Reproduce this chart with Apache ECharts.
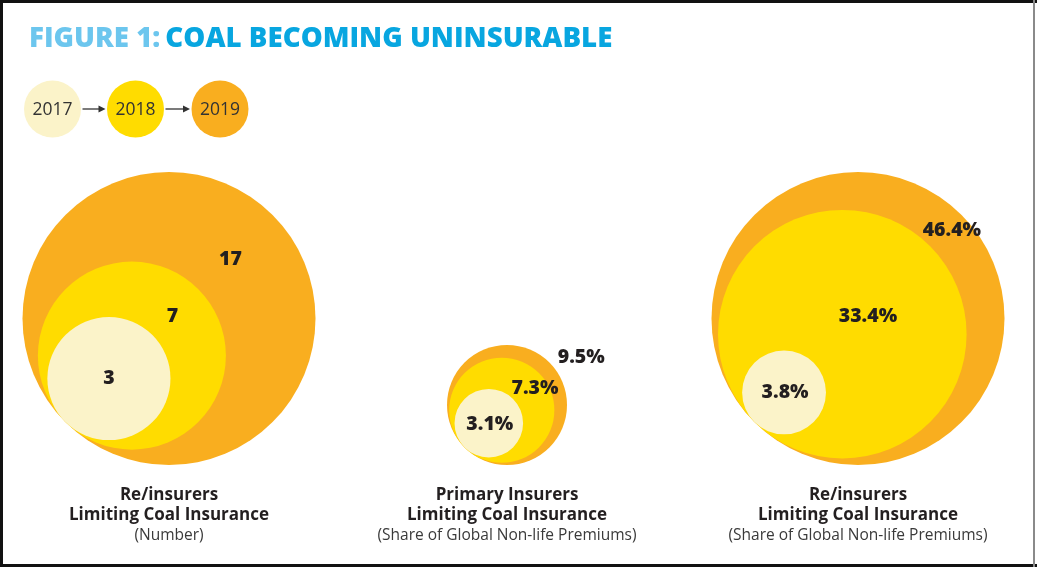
<!DOCTYPE html>
<html><head><meta charset="utf-8">
<script src="https://cdn.jsdelivr.net/npm/echarts@6/dist/echarts.min.js"></script>
<style>html,body{margin:0;padding:0;background:#fff}#c{width:1037px;height:567px}</style>
</head><body><div id="c"></div>
<script>
// ---- data ----
const years = ['2017', '2018', '2019'];
const reinsurersNumber = [3, 7, 17];
const primaryInsurersShare = [3.1, 7.3, 9.5];
const reinsurersShare = [3.8, 33.4, 46.4];
const panelLine1 = ['Re/insurers', 'Primary Insurers', 'Re/insurers'];
const panelLine2 = ['Limiting Coal Insurance', 'Limiting Coal Insurance', 'Limiting Coal Insurance'];
const panelUnits = ['(Number)', '(Share of Global Non-life Premiums)', '(Share of Global Non-life Premiums)'];
const valueSuffix = ['', '%', '%'];
const valueDecimals = [0, 1, 1];
const titleLead = 'FIGURE 1:';
const titleMain = 'COAL BECOMING UNINSURABLE';

// ---- layout / style ----
const FONT = '"Open Sans", "Noto Sans", sans-serif';
const yearColors = ['#FBF3C9', '#FFDC00', '#F9AE1F'];
const panelValues = [reinsurersNumber, primaryInsurersShare, reinsurersShare];
const panels = [
  { cx: 169, R: 146.5, nudges: [[0, 0], [-3, 4], [-5, 7]] },
  { cx: 507, R: 60, nudges: [[1, 1], [9, 2], [37, -10]] },
  { cx: 858, R: 146.5, nudges: [[1, 0], [-4, 12], [6, 0]] }
];
const baseY = 465;
const D = Math.SQRT1_2;

function makeRender(pi) {
  const values = panelValues[pi];
  const s = Math.sqrt(Math.max.apply(null, values));
  const T = [-s * D, s - s * D]; // common tangent point (bottom-left)
  return function (params, api) {
    const v = api.value(0);
    const idx = api.value(1);
    const r = Math.sqrt(v);
    const rIn = idx > 0 ? Math.sqrt(values[idx - 1]) : 0;
    const c = api.coord([T[0] + r * D, T[1] + r * D]);
    const rp = api.size([r, 0])[0];
    const lp = api.coord([T[0] + (r + rIn) * D, T[1] + (r + rIn) * D]);
    const nd = panels[pi].nudges[idx];
    return {
      type: 'group',
      children: [
        { type: 'circle', shape: { cx: c[0], cy: c[1], r: rp }, style: { fill: yearColors[idx] }, z2: 0 },
        {
          type: 'text', x: lp[0] + nd[0], y: lp[1] + nd[1], z2: 10,
          style: {
            text: v.toFixed(valueDecimals[pi]) + valueSuffix[pi],
            font: '800 19.5px ' + FONT, fill: '#231F20', align: 'center', verticalAlign: 'middle'
          }
        }
      ]
    };
  };
}

const grids = [], xAxes = [], yAxes = [], series = [];
panels.forEach((p, i) => {
  const s = Math.sqrt(Math.max.apply(null, panelValues[i]));
  grids.push({ left: p.cx - p.R, top: baseY - 2 * p.R, width: 2 * p.R, height: 2 * p.R, containLabel: false });
  xAxes.push({ gridIndex: i, type: 'value', min: -s, max: s, show: false });
  yAxes.push({ gridIndex: i, type: 'value', min: 0, max: 2 * s, show: false });
  series.push({
    type: 'custom', xAxisIndex: i, yAxisIndex: i, clip: false, silent: true,
    renderItem: makeRender(i),
    encode: { x: 0, y: 1 },
    data: panelValues[i].map((v, k) => [v, k]).reverse()
  });
});

const graphics = [];
// frame
graphics.push({ type: 'rect', shape: { x: 0, y: 0, width: 1037, height: 3 }, style: { fill: '#111' } });
graphics.push({ type: 'rect', shape: { x: 0, y: 0, width: 3, height: 567 }, style: { fill: '#111' } });
graphics.push({ type: 'rect', shape: { x: 0, y: 564, width: 1037, height: 3 }, style: { fill: '#111' } });
graphics.push({ type: 'rect', shape: { x: 1033, y: 0, width: 2, height: 567 }, style: { fill: '#8a8a8a' } });
// legend
const legX = [52.5, 135.5, 220], legY = 109;
years.forEach((y, i) => {
  graphics.push({ type: 'circle', shape: { cx: legX[i], cy: legY, r: 28.5 }, style: { fill: yearColors[i] } });
  graphics.push({ type: 'text', x: legX[i], y: legY + 1, style: { text: y, font: '17.5px ' + FONT, fill: '#333', align: 'center', verticalAlign: 'middle' } });
  if (i < years.length - 1) {
    const x0 = legX[i] + 30, x1 = legX[i + 1] - 30;
    graphics.push({ type: 'line', shape: { x1: x0, y1: legY, x2: x1 - 5, y2: legY }, style: { stroke: '#333', lineWidth: 1.3 } });
    graphics.push({ type: 'polygon', shape: { points: [[x1, legY], [x1 - 7, legY - 3.5], [x1 - 7, legY + 3.5]] }, style: { fill: '#333' } });
  }
});
// panel captions
panels.forEach((p, i) => {
  graphics.push({ type: 'text', x: p.cx, y: 495, style: { text: panelLine1[i], font: 'bold 17px ' + FONT, fill: '#231F20', align: 'center', verticalAlign: 'middle' } });
  graphics.push({ type: 'text', x: p.cx, y: 515, style: { text: panelLine2[i], font: 'bold 17px ' + FONT, fill: '#231F20', align: 'center', verticalAlign: 'middle' } });
  graphics.push({ type: 'text', x: p.cx, y: 536, style: { text: panelUnits[i], font: '15.5px ' + FONT, fill: '#3a3a3a', align: 'center', verticalAlign: 'middle' } });
});

const chart = echarts.init(document.getElementById('c'), null, { renderer: 'canvas' });
chart.setOption({
  backgroundColor: '#fff',
  animation: false,
  title: {
    left: 24, top: 18,
    text: '{a|' + titleLead + '}{g| }{b|' + titleMain + '}',
    textStyle: {
      rich: {
        a: { color: '#6CC6EE', fontSize: 27.7, fontWeight: 800, fontFamily: FONT, lineHeight: 32 },
        g: { fontSize: 27.7, width: 5, lineHeight: 32 },
        b: { color: '#08A6E0', fontSize: 27.7, fontWeight: 800, fontFamily: FONT, lineHeight: 32 }
      }
    }
  },
  grid: grids, xAxis: xAxes, yAxis: yAxes, series: series,
  graphic: { elements: graphics }
});
</script></body></html>
